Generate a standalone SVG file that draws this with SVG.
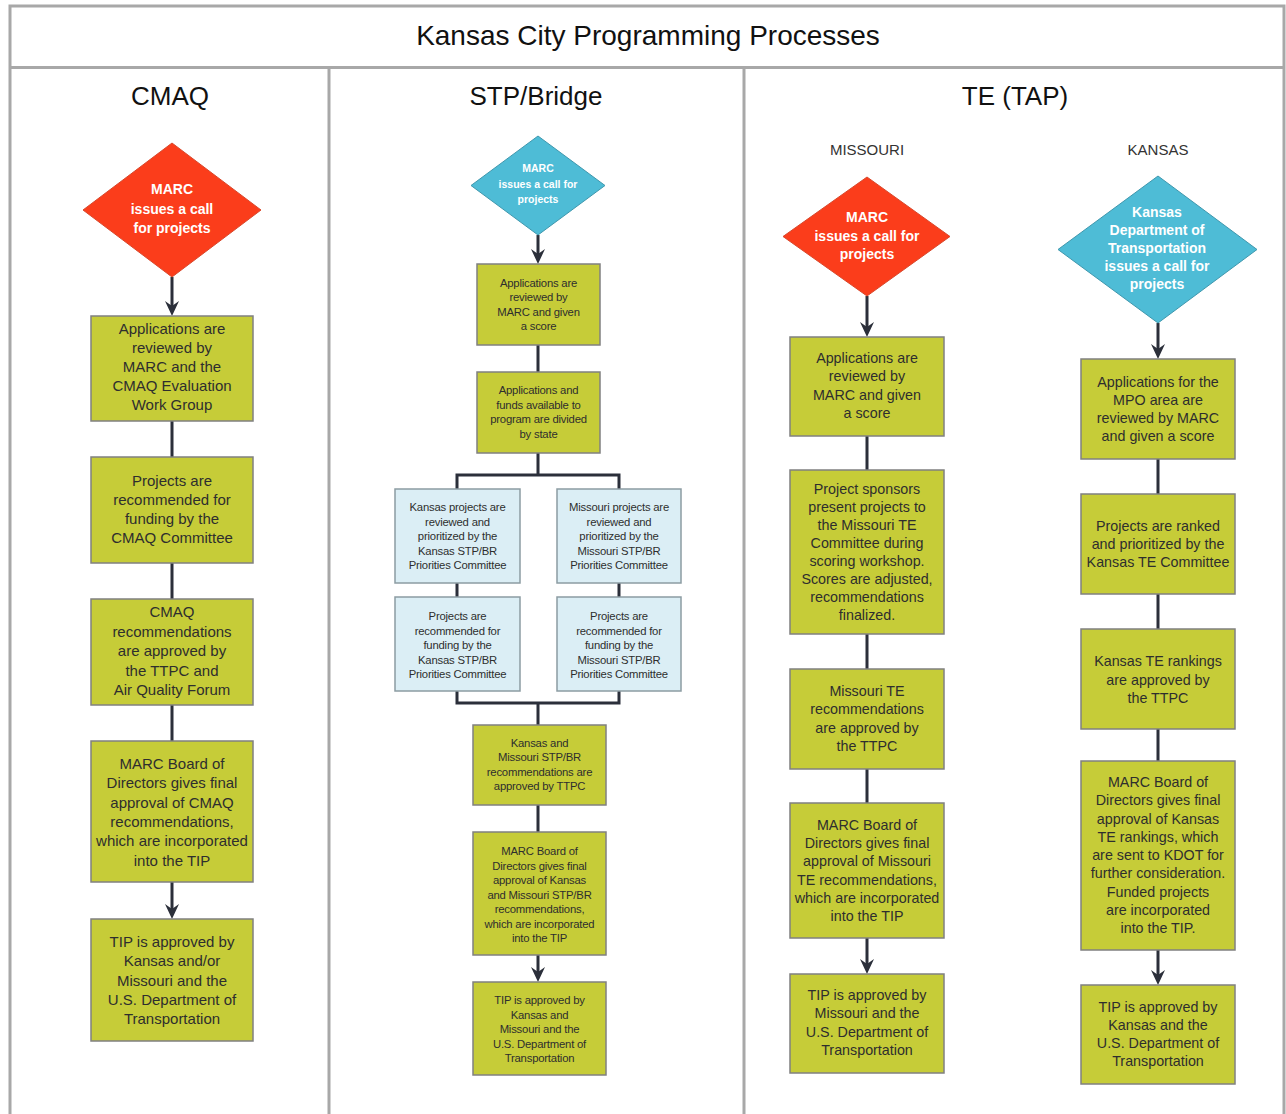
<svg xmlns="http://www.w3.org/2000/svg" width="1286" height="1114" viewBox="0 0 1286 1114">
<style>
.frame{fill:none;stroke:#a8a8a8;stroke-width:3}
.box{fill:#c6cc38;stroke:#808080;stroke-width:1.5}
.bbox{fill:#dbeef5;stroke:#8c9ca2;stroke-width:1.5}
.dr{fill:#fb3d1b;stroke:#d8482c;stroke-width:1}
.db{fill:#4ebcd6;stroke:#3f97ad;stroke-width:1}
text{font-family:"Liberation Sans",Arial,sans-serif;text-anchor:middle}
.t{font-size:15px;fill:#2e2e2e}
.tm{font-size:14.3px;fill:#2e2e2e}
.ts{font-size:11.3px;fill:#2e2e2e;letter-spacing:-0.2px}
.dt{font-size:14px;font-weight:bold;fill:#ffffff}
.dts{font-size:10.5px;font-weight:bold;fill:#ffffff}
.h1{font-size:28px;fill:#111}
.h2{font-size:26px;fill:#111}
.h3{font-size:15px;fill:#333}
.conn{fill:none;stroke:#2b2f3a;stroke-width:3}
</style>
<defs>
<marker id="ah" markerUnits="userSpaceOnUse" markerWidth="16" markerHeight="16" viewBox="0 0 16 16" refX="10" refY="8" orient="auto">
<path d="M0,1 L15,8 L0,15 L5,8 z" fill="#2b2f3a"/>
</marker>
</defs>
<rect width="1286" height="1114" fill="#ffffff"/>
<g id="frame">
<path class="frame" d="M10,1114 V6 H1284 V1114"/>
<line class="frame" x1="10" y1="67.5" x2="1284" y2="67.5"/>
<line class="frame" x1="329" y1="67" x2="329" y2="1114"/>
<line class="frame" x1="744" y1="67" x2="744" y2="1114"/>
<text class="h1" x="648" y="45">Kansas City Programming Processes</text>
<text class="h2" x="170" y="105">CMAQ</text>
<text class="h2" x="536" y="105">STP/Bridge</text>
<text class="h2" x="1015" y="105">TE (TAP)</text>
<text class="h3" x="867" y="155">MISSOURI</text>
<text class="h3" x="1158" y="155">KANSAS</text>
</g>
<g id="connectors">
<path class="conn" d="M172,277 V311" marker-end="url(#ah)"/>
<path class="conn" d="M172,421 V457 M172,563 V599 M172,705 V741"/>
<path class="conn" d="M172,882 V914" marker-end="url(#ah)"/>
<path class="conn" d="M538,235 V259" marker-end="url(#ah)"/>
<path class="conn" d="M538,345 V372 M538,453 V475 M457,489 V475 H619 V489 M457,583 V597 M619,583 V597 M457,691 V703 H619 V691 M538,703 V725 M538,805 V832"/>
<path class="conn" d="M538,955 V977" marker-end="url(#ah)"/>
<path class="conn" d="M867,296 V332" marker-end="url(#ah)"/>
<path class="conn" d="M867,436 V470 M867,634 V669 M867,769 V803"/>
<path class="conn" d="M867,938 V969" marker-end="url(#ah)"/>
<path class="conn" d="M1158,323 V354" marker-end="url(#ah)"/>
<path class="conn" d="M1158,459 V494 M1158,594 V629 M1158,729 V761"/>
<path class="conn" d="M1158,950 V980" marker-end="url(#ah)"/>
</g>
<g id="cmaq-call">
<polygon class="dr" points="172,143 261,210 172,277 83,210"/>
<text class="dt" y="194"><tspan x="172">MARC</tspan><tspan x="172" dy="19.5">issues a call</tspan><tspan x="172" dy="19.5">for projects</tspan></text>
</g>
<g id="cmaq-1">
<rect class="box" x="91" y="316" width="162" height="105"/>
<text class="t" y="334"><tspan x="172">Applications are</tspan><tspan x="172" dy="19">reviewed by</tspan><tspan x="172" dy="19">MARC and the</tspan><tspan x="172" dy="19">CMAQ Evaluation</tspan><tspan x="172" dy="19">Work Group</tspan></text>
</g>
<g id="cmaq-2">
<rect class="box" x="91" y="457" width="162" height="106"/>
<text class="t" y="486"><tspan x="172">Projects are</tspan><tspan x="172" dy="19">recommended for</tspan><tspan x="172" dy="19">funding by the</tspan><tspan x="172" dy="19">CMAQ Committee</tspan></text>
</g>
<g id="cmaq-3">
<rect class="box" x="91" y="599" width="162" height="106"/>
<text class="t" y="617"><tspan x="172">CMAQ</tspan><tspan x="172" dy="19.5">recommendations</tspan><tspan x="172" dy="19.5">are approved by</tspan><tspan x="172" dy="19.5">the TTPC and</tspan><tspan x="172" dy="19.5">Air Quality Forum</tspan></text>
</g>
<g id="cmaq-4">
<rect class="box" x="91" y="741" width="162" height="141"/>
<text class="t" y="769"><tspan x="172">MARC Board of</tspan><tspan x="172" dy="19.3">Directors gives final</tspan><tspan x="172" dy="19.3">approval of CMAQ</tspan><tspan x="172" dy="19.3">recommendations,</tspan><tspan x="172" dy="19.3">which are incorporated</tspan><tspan x="172" dy="19.3">into the TIP</tspan></text>
</g>
<g id="cmaq-5">
<rect class="box" x="91" y="919" width="162" height="122"/>
<text class="t" y="947"><tspan x="172">TIP is approved by</tspan><tspan x="172" dy="19.3">Kansas and/or</tspan><tspan x="172" dy="19.3">Missouri and the</tspan><tspan x="172" dy="19.3">U.S. Department of</tspan><tspan x="172" dy="19.3">Transportation</tspan></text>
</g>
<g id="stp-call">
<polygon class="db" points="538,136 605,185.5 538,235 471,185.5"/>
<text class="dts" y="172"><tspan x="538">MARC</tspan><tspan x="538" dy="15.5">issues a call for</tspan><tspan x="538" dy="15.5">projects</tspan></text>
</g>
<g id="stp-1">
<rect class="box" x="477" y="264" width="123" height="81"/>
<text class="ts" y="287"><tspan x="538.5">Applications are</tspan><tspan x="538.5" dy="14.4">reviewed by</tspan><tspan x="538.5" dy="14.4">MARC and given</tspan><tspan x="538.5" dy="14.4">a score</tspan></text>
</g>
<g id="stp-2">
<rect class="box" x="477" y="372" width="123" height="81"/>
<text class="ts" y="394"><tspan x="538.5">Applications and</tspan><tspan x="538.5" dy="14.6">funds available to</tspan><tspan x="538.5" dy="14.6">program are divided</tspan><tspan x="538.5" dy="14.6">by state</tspan></text>
</g>
<g id="stp-ks-1">
<rect class="bbox" x="395" y="489" width="125" height="94"/>
<text class="ts" y="511"><tspan x="457.5">Kansas projects are</tspan><tspan x="457.5" dy="14.5">reviewed and</tspan><tspan x="457.5" dy="14.5">prioritized by the</tspan><tspan x="457.5" dy="14.5">Kansas STP/BR</tspan><tspan x="457.5" dy="14.5">Priorities Committee</tspan></text>
</g>
<g id="stp-mo-1">
<rect class="bbox" x="557" y="489" width="124" height="94"/>
<text class="ts" y="511"><tspan x="619">Missouri projects are</tspan><tspan x="619" dy="14.5">reviewed and</tspan><tspan x="619" dy="14.5">prioritized by the</tspan><tspan x="619" dy="14.5">Missouri STP/BR</tspan><tspan x="619" dy="14.5">Priorities Committee</tspan></text>
</g>
<g id="stp-ks-2">
<rect class="bbox" x="395" y="597" width="125" height="94"/>
<text class="ts" y="620"><tspan x="457.5">Projects are</tspan><tspan x="457.5" dy="14.5">recommended for</tspan><tspan x="457.5" dy="14.5">funding by the</tspan><tspan x="457.5" dy="14.5">Kansas STP/BR</tspan><tspan x="457.5" dy="14.5">Priorities Committee</tspan></text>
</g>
<g id="stp-mo-2">
<rect class="bbox" x="557" y="597" width="124" height="94"/>
<text class="ts" y="620"><tspan x="619">Projects are</tspan><tspan x="619" dy="14.5">recommended for</tspan><tspan x="619" dy="14.5">funding by the</tspan><tspan x="619" dy="14.5">Missouri STP/BR</tspan><tspan x="619" dy="14.5">Priorities Committee</tspan></text>
</g>
<g id="stp-3">
<rect class="box" x="473" y="725" width="133" height="80"/>
<text class="ts" y="747"><tspan x="539.5">Kansas and</tspan><tspan x="539.5" dy="14.4">Missouri STP/BR</tspan><tspan x="539.5" dy="14.4">recommendations are</tspan><tspan x="539.5" dy="14.4">approved by TTPC</tspan></text>
</g>
<g id="stp-4">
<rect class="box" x="473" y="832" width="133" height="123"/>
<text class="ts" y="855"><tspan x="539.5">MARC Board of</tspan><tspan x="539.5" dy="14.5">Directors gives final</tspan><tspan x="539.5" dy="14.5">approval of Kansas</tspan><tspan x="539.5" dy="14.5">and Missouri STP/BR</tspan><tspan x="539.5" dy="14.5">recommendations,</tspan><tspan x="539.5" dy="14.5">which are incorporated</tspan><tspan x="539.5" dy="14.5">into the TIP</tspan></text>
</g>
<g id="stp-5">
<rect class="box" x="473" y="982" width="133" height="93"/>
<text class="ts" y="1004"><tspan x="539.5">TIP is approved by</tspan><tspan x="539.5" dy="14.5">Kansas and</tspan><tspan x="539.5" dy="14.5">Missouri and the</tspan><tspan x="539.5" dy="14.5">U.S. Department of</tspan><tspan x="539.5" dy="14.5">Transportation</tspan></text>
</g>
<g id="mo-call">
<polygon class="dr" points="867,177 950,236.5 867,296 783,236.5"/>
<text class="dt" y="222"><tspan x="867">MARC</tspan><tspan x="867" dy="18.5">issues a call for</tspan><tspan x="867" dy="18.5">projects</tspan></text>
</g>
<g id="mo-1">
<rect class="box" x="790" y="337" width="154" height="99"/>
<text class="tm" y="363"><tspan x="867">Applications are</tspan><tspan x="867" dy="18.3">reviewed by</tspan><tspan x="867" dy="18.3">MARC and given</tspan><tspan x="867" dy="18.3">a score</tspan></text>
</g>
<g id="mo-2">
<rect class="box" x="790" y="470" width="154" height="164"/>
<text class="tm" y="494"><tspan x="867">Project sponsors</tspan><tspan x="867" dy="18">present projects to</tspan><tspan x="867" dy="18">the Missouri TE</tspan><tspan x="867" dy="18">Committee during</tspan><tspan x="867" dy="18">scoring workshop.</tspan><tspan x="867" dy="18">Scores are adjusted,</tspan><tspan x="867" dy="18">recommendations</tspan><tspan x="867" dy="18">finalized.</tspan></text>
</g>
<g id="mo-3">
<rect class="box" x="790" y="669" width="154" height="100"/>
<text class="tm" y="696"><tspan x="867">Missouri TE</tspan><tspan x="867" dy="18.3">recommendations</tspan><tspan x="867" dy="18.3">are approved by</tspan><tspan x="867" dy="18.3">the TTPC</tspan></text>
</g>
<g id="mo-4">
<rect class="box" x="790" y="803" width="154" height="135"/>
<text class="tm" y="830"><tspan x="867">MARC Board of</tspan><tspan x="867" dy="18.2">Directors gives final</tspan><tspan x="867" dy="18.2">approval of Missouri</tspan><tspan x="867" dy="18.2">TE recommendations,</tspan><tspan x="867" dy="18.2">which are incorporated</tspan><tspan x="867" dy="18.2">into the TIP</tspan></text>
</g>
<g id="mo-5">
<rect class="box" x="790" y="974" width="154" height="99"/>
<text class="tm" y="1000"><tspan x="867">TIP is approved by</tspan><tspan x="867" dy="18.3">Missouri and the</tspan><tspan x="867" dy="18.3">U.S. Department of</tspan><tspan x="867" dy="18.3">Transportation</tspan></text>
</g>
<g id="ks-call">
<polygon class="db" points="1158,176 1257,249.5 1158,323 1058,249.5"/>
<text class="dt" y="217"><tspan x="1157">Kansas</tspan><tspan x="1157" dy="18">Department of</tspan><tspan x="1157" dy="18">Transportation</tspan><tspan x="1157" dy="18">issues a call for</tspan><tspan x="1157" dy="18">projects</tspan></text>
</g>
<g id="ks-1">
<rect class="box" x="1081" y="359" width="154" height="100"/>
<text class="tm" y="387"><tspan x="1158">Applications for the</tspan><tspan x="1158" dy="18">MPO area are</tspan><tspan x="1158" dy="18">reviewed by MARC</tspan><tspan x="1158" dy="18">and given a score</tspan></text>
</g>
<g id="ks-2">
<rect class="box" x="1081" y="494" width="154" height="100"/>
<text class="tm" y="531"><tspan x="1158">Projects are ranked</tspan><tspan x="1158" dy="18">and prioritized by the</tspan><tspan x="1158" dy="18">Kansas TE Committee</tspan></text>
</g>
<g id="ks-3">
<rect class="box" x="1081" y="629" width="154" height="100"/>
<text class="tm" y="666"><tspan x="1158">Kansas TE rankings</tspan><tspan x="1158" dy="18.5">are approved by</tspan><tspan x="1158" dy="18.5">the TTPC</tspan></text>
</g>
<g id="ks-4">
<rect class="box" x="1081" y="761" width="154" height="189"/>
<text class="tm" y="787"><tspan x="1158">MARC Board of</tspan><tspan x="1158" dy="18.25">Directors gives final</tspan><tspan x="1158" dy="18.25">approval of Kansas</tspan><tspan x="1158" dy="18.25">TE rankings, which</tspan><tspan x="1158" dy="18.25">are sent to KDOT for</tspan><tspan x="1158" dy="18.25">further consideration.</tspan><tspan x="1158" dy="18.25">Funded projects</tspan><tspan x="1158" dy="18.25">are incorporated</tspan><tspan x="1158" dy="18.25">into the TIP.</tspan></text>
</g>
<g id="ks-5">
<rect class="box" x="1081" y="985" width="154" height="99"/>
<text class="tm" y="1012"><tspan x="1158">TIP is approved by</tspan><tspan x="1158" dy="18">Kansas and the</tspan><tspan x="1158" dy="18">U.S. Department of</tspan><tspan x="1158" dy="18">Transportation</tspan></text>
</g>
</svg>
